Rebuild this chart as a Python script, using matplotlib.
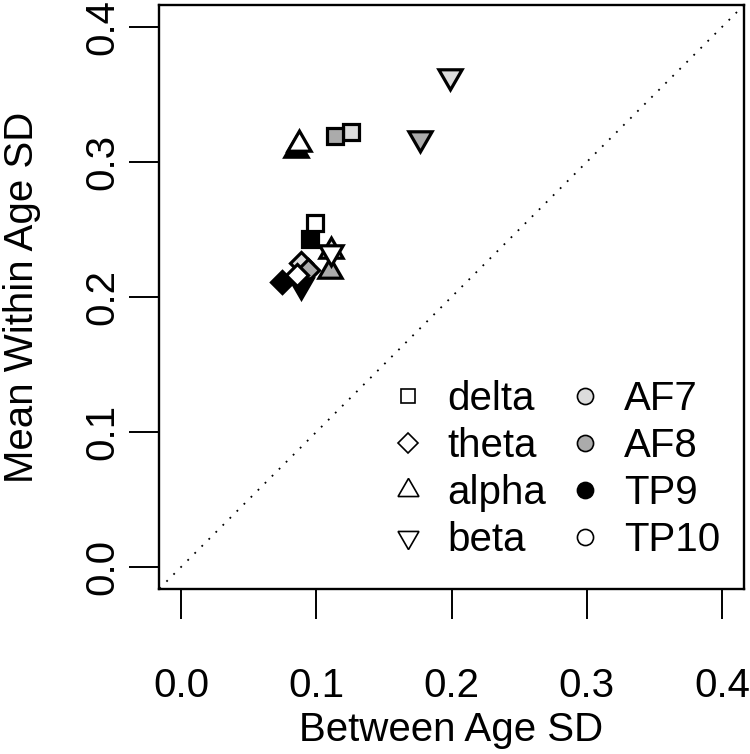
import matplotlib
matplotlib.use("Agg")
import matplotlib.pyplot as plt
from matplotlib.lines import Line2D
import numpy as np

plt.rcParams["font.family"] = ["Liberation Sans", "DejaVu Sans"]

bands = ["delta", "theta", "alpha", "beta"]
channels = ["AF7", "AF8", "TP9", "TP10"]

# values per channel, in band order (delta, theta, alpha, beta)
af7_between = [0.126, 0.089, 0.111, 0.199]
af7_within = [0.322, 0.225, 0.234, 0.364]
af8_between = [0.114, 0.094, 0.110, 0.177]
af8_within = [0.319, 0.220, 0.219, 0.318]
tp9_between = [0.095, 0.075, 0.085, 0.089]
tp9_within = [0.243, 0.211, 0.309, 0.209]
tp10_between = [0.099, 0.086, 0.087, 0.111]
tp10_within = [0.255, 0.216, 0.313, 0.233]

channel_fill = ["#dcdcdc", "#ababab", "#000000", "#ffffff"]

# R-like symbols: square, diamond, equilateral triangles (centroid centred)
band_marker = ["s", "D", (3, 0, 0), (3, 0, 180)]
band_size = [11.0, 11.0, 19.3, 19.3]

fig = plt.figure(figsize=(7.5, 7.54), dpi=100)
ax = fig.add_axes([159.4 / 750, (754 - 588.6) / 754, 584.2 / 750, 583.2 / 754])

ax.axline((0, 0), slope=1, color="black", lw=1.3, linestyle=(0, (1, 4.5)), zorder=1)

xs = [af7_between, af8_between, tp9_between, tp10_between]
ys = [af7_within, af8_within, tp9_within, tp10_within]
z = 2
for ci, ch in enumerate(channels):
    for bi, b in enumerate(bands):
        ax.plot(xs[ci][bi], ys[ci][bi], linestyle="none", marker=band_marker[bi],
                ms=band_size[bi], mfc=channel_fill[ci], mec="black", mew=2.3, zorder=z)
        z += 1

ax.set_xlim(-0.016, 0.416)
ax.set_ylim(-0.016, 0.416)
ticks = [0.0, 0.1, 0.2, 0.3, 0.4]
ax.set_xticks(ticks)
ax.set_yticks(ticks)
ax.set_xticklabels([f"{t:.1f}" for t in ticks], fontsize=29)
ax.set_yticklabels([f"{t:.1f}" for t in ticks], fontsize=29, rotation=90, va="center")
ax.tick_params(axis="both", length=21.6, width=1.4, direction="out")
ax.tick_params(axis="x", pad=35)
ax.tick_params(axis="y", pad=6)
for s in ax.spines.values():
    s.set_linewidth(1.7)

ax.set_xlabel("Between Age SD", fontsize=29, labelpad=4)
ax.set_ylabel("Mean Within Age SD", fontsize=29, labelpad=30)

handles = []
for bi, b in enumerate(bands):
    handles.append(Line2D([], [], linestyle="none", marker=band_marker[bi], ms=band_size[bi] * 0.9,
                          mfc="white", mec="black", mew=1.2, label=b))
for ci, ch in enumerate(channels):
    handles.append(Line2D([], [], linestyle="none", marker="o", ms=11.6,
                          mfc=channel_fill[ci], mec="black", mew=1.2, label=ch))
ax.legend(handles=handles, ncol=2, frameon=False, fontsize=29, loc="lower right",
          bbox_to_anchor=(0.9596, 0.0514), borderpad=0, borderaxespad=0,
          handlelength=0.8, handletextpad=0.57, columnspacing=0.55, labelspacing=0.22)

fig.savefig("out.png", dpi=100)
